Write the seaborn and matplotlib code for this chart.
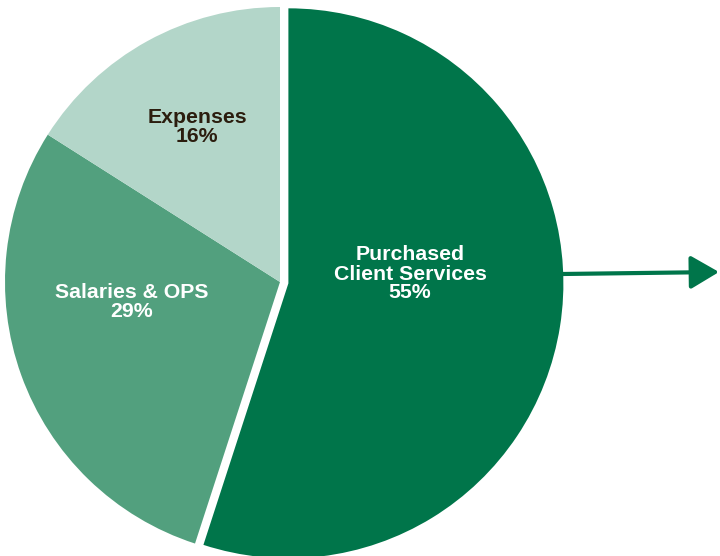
"""Spending breakdown pie with a callout arrow."""

import matplotlib.pyplot as plt
import seaborn as sns

categories = ["Purchased\nClient Services", "Salaries & OPS", "Expenses"]
shares = [55, 29, 16]
slice_colors = ["#00754A", "#52A07E", "#B3D6C9"]
text_colors = ["white", "white", "#2B1D0E"]
label_pos = [(410, 282), (132, 254), (197, 429)]

sns.set_theme(style="white")
plt.rcParams["font.family"] = ["Liberation Sans", "DejaVu Sans"]

fig = plt.figure(figsize=(7.2, 5.56), dpi=100)
ax = fig.add_axes([0, 0, 1, 1])

# explode is in data units here (radius = 275)
ax.pie(
    shares,
    colors=slice_colors,
    startangle=90,
    counterclock=False,
    center=(280, 274),
    radius=275,
    explode=[8.5, 0, 0],
    wedgeprops={"linewidth": 0},
    frame=True,
)
ax.set_xlim(0, 720)
ax.set_ylim(0, 556)
ax.set_aspect("equal")
ax.axis("off")

for cat, share, (x, y), tc in zip(categories, shares, label_pos, text_colors):
    ax.text(x, y, f"{cat}\n{share}%", ha="center", va="center", color=tc,
            fontsize=15.3, fontweight="bold", linespacing=1.0)

ax.annotate("", xy=(719, 284), xytext=(562, 282),
            arrowprops=dict(arrowstyle="-|>,head_length=1.45,head_width=0.85",
                            color="#00754A", lw=3, shrinkA=0, shrinkB=0))

fig.savefig("out.png", dpi=100)
